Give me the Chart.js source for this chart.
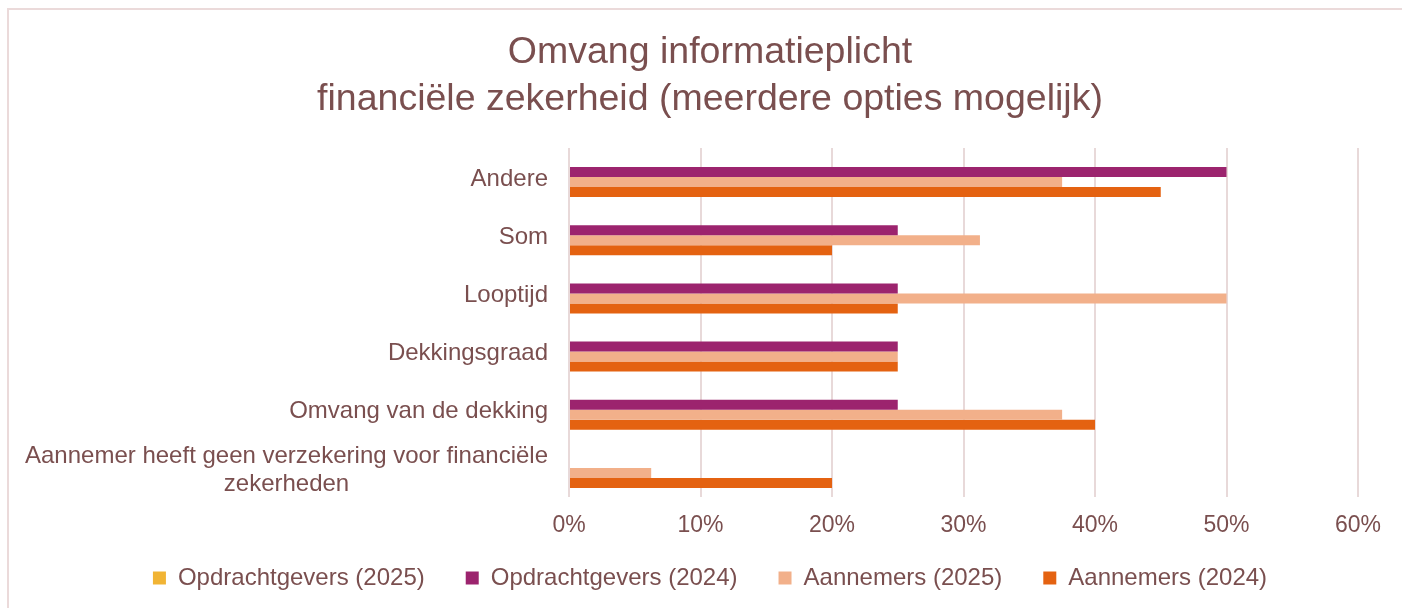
<!DOCTYPE html>
<html>
<head>
<meta charset="utf-8">
<script src="https://cdn.jsdelivr.net/npm/chart.js@4.4.1/dist/chart.umd.min.js"></script>
<style>
    html, body { margin: 0; padding: 0; background: #fff; overflow: hidden; }
    #wrap { position: relative; width: 1420px; height: 608px; }
    #frame { position: absolute; left: 7px; top: 8px; width: 1500px; height: 700px;
             border-left: 2px solid #EBDADA; border-top: 2px solid #EBDADA; }
</style>
</head>
<body>
<div id="wrap">
    <div id="frame"></div>
    <canvas id="chart" width="1420" height="608"></canvas>
</div>
<script>
// Data
const categories = [
    'Andere',
    'Som',
    'Looptijd',
    'Dekkingsgraad',
    'Omvang van de dekking',
    ['Aannemer heeft geen verzekering voor financiële', 'zekerheden']
];
const opdrachtgevers2025 = [0, 0, 0, 0, 0, 0];
const opdrachtgevers2024 = [50, 25, 25, 25, 25, 0];
const aannemers2025 = [37.5, 31.25, 50, 25, 37.5, 6.25];
const aannemers2024 = [45, 20, 25, 25, 40, 20];
const xMin = 0;
const xMax = 60;
const xStep = 10;

// Styles
const textColor = '#7A4F4F';
const gridColor = '#E8D9D9';
const fontFamily = '"Liberation Sans", Arial, sans-serif';
const legendHeight = 61;
const legendShift = 22;

// Draws the category labels (wrapped lines centred inside a right-aligned block)
const yLabelPlugin = {
    id: 'yLabels',
    afterDraw(chart) {
        const ctx = chart.ctx;
        const scale = chart.scales.y;
        const right = scale.right - 21;
        ctx.save();
        ctx.font = '24px ' + fontFamily;
        ctx.fillStyle = textColor;
        ctx.textBaseline = 'middle';
        categories.forEach((label, i) => {
            const y = scale.getPixelForTick(i) + 2;
            if (Array.isArray(label)) {
                const lh = 28;
                const widest = Math.max(...label.map(l => ctx.measureText(l).width));
                const cx = right - widest / 2;
                const y0 = y - (label.length - 1) * lh / 2;
                ctx.textAlign = 'center';
                label.forEach((line, j) => ctx.fillText(line, cx, y0 + j * lh));
            } else {
                ctx.textAlign = 'right';
                ctx.fillText(label, right, y);
            }
        });
        ctx.restore();
    }
};

// Keep the legend compact and pull its top up under the axis labels
const legendFitPlugin = {
    id: 'legendFit',
    beforeUpdate(chart) {
        const lg = chart.legend;
        if (lg && !lg._patched) {
            const fit = lg.fit;
            lg.fit = function () { fit.call(this); this.height = legendHeight; };
            lg._patched = true;
        }
    },
    afterLayout(chart) {
        const lg = chart.legend;
        if (lg) {
            lg.top -= legendShift;
            lg.height += legendShift;
        }
    }
};

const ctx = document.getElementById('chart').getContext('2d');
new Chart(ctx, {
    type: 'bar',
    data: {
        labels: categories,
        datasets: [
            { label: 'Opdrachtgevers (2025)', data: opdrachtgevers2025, backgroundColor: '#F1B434' },
            { label: 'Opdrachtgevers (2024)', data: opdrachtgevers2024, backgroundColor: '#9C246E' },
            { label: 'Aannemers (2025)', data: aannemers2025, backgroundColor: '#F2B08A' },
            { label: 'Aannemers (2024)', data: aannemers2024, backgroundColor: '#E46211' }
        ]
    },
    options: {
        indexAxis: 'y',
        responsive: false,
        animation: false,
        datasets: {
            bar: { categoryPercentage: 0.688, barPercentage: 1, borderWidth: 0 }
        },
        layout: { padding: { left: 62, right: 62, top: 0, bottom: 0 } },
        scales: {
            x: {
                min: xMin,
                max: xMax,
                grid: { color: gridColor, lineWidth: 2, drawTicks: false },
                border: { display: false },
                ticks: {
                    stepSize: xStep,
                    padding: 15,
                    color: textColor,
                    font: { family: fontFamily, size: 23 },
                    callback: v => v + '%'
                },
                afterFit: scale => { scale.height = 50; }
            },
            y: {
                grid: { display: false },
                border: { display: false },
                ticks: { display: false },
                afterFit: scale => { scale.width = 507; }
            }
        },
        plugins: {
            title: {
                display: true,
                text: ['Omvang informatieplicht', 'financiële zekerheid (meerdere opties mogelijk)'],
                color: textColor,
                font: { family: fontFamily, size: 37.5, weight: 'normal', lineHeight: 1.253 },
                padding: { top: 29.5, bottom: 24.5 }
            },
            legend: {
                position: 'bottom',
                labels: {
                    boxWidth: 13,
                    boxHeight: 13,
                    padding: 41,
                    color: textColor,
                    font: { family: fontFamily, size: 24 }
                }
            },
            tooltip: { enabled: false }
        }
    },
    plugins: [yLabelPlugin, legendFitPlugin]
});
</script>
</body>
</html>
